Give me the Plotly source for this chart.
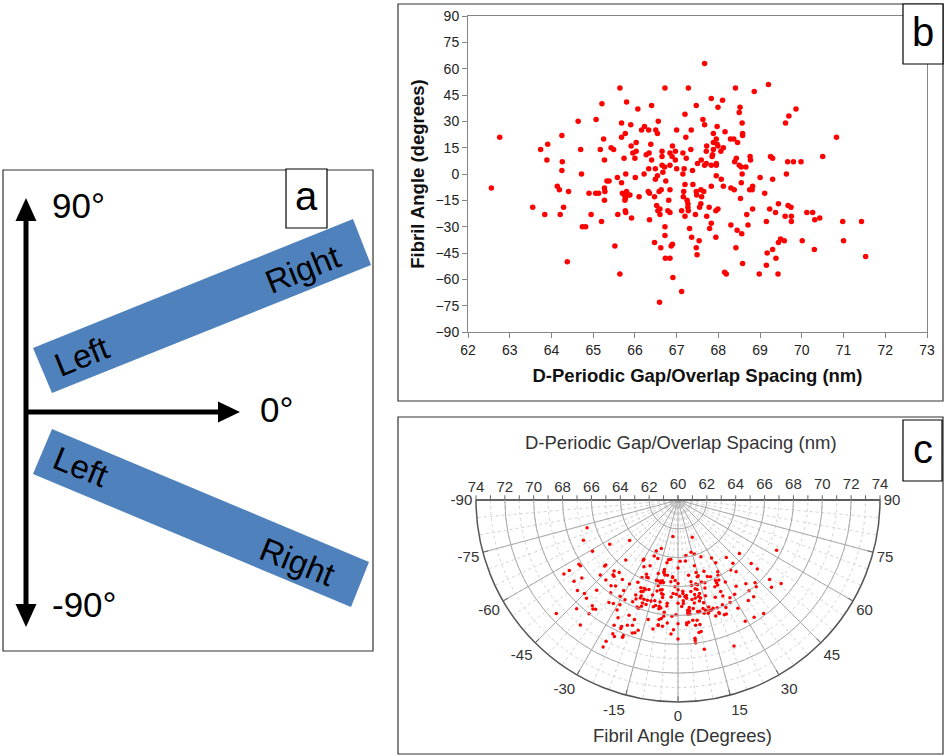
import plotly.graph_objects as go

# ---------------- data ----------------
spacing_nm = [
    67.67, 69.20, 65.64, 66.72, 67.28, 68.41, 68.86, 67.83, 68.10, 65.80,
    65.21, 67.47, 66.40, 67.99, 68.52, 66.07, 69.86, 68.50, 67.20, 69.69,
    67.63, 65.07, 64.64, 66.56, 65.68, 69.61, 68.57, 65.90, 67.67, 67.97,
    66.23, 66.16, 66.33, 67.00, 67.35, 66.50, 68.16, 66.54, 65.77, 67.88,
    68.58, 68.58, 64.25, 62.76, 65.68, 67.22, 70.83, 65.25, 67.95, 68.29,
    68.37, 66.03, 67.88, 68.46, 63.91, 66.38, 67.97, 65.91, 66.90, 67.72,
    67.99, 65.43, 68.12, 63.74, 64.70, 65.17, 65.49, 67.34, 67.88, 66.65,
    66.97, 67.71, 68.06, 65.95, 66.03, 67.15, 66.84, 66.27, 67.86, 66.34,
    66.89, 66.65, 67.23, 65.74, 66.00, 67.85, 68.76, 69.25, 69.30, 70.50,
    68.43, 68.77, 63.89, 65.27, 66.40, 66.97, 67.59, 64.26, 68.39, 69.66,
    69.80, 69.98, 67.71, 67.95, 67.50, 66.65, 66.84, 67.67, 67.83, 67.95,
    68.50, 66.71, 68.66, 68.55, 66.49, 67.00, 66.33, 67.18, 64.25, 67.38,
    66.67, 64.72, 65.78, 66.22, 67.15, 68.57, 69.63, 67.95, 66.54, 69.00,
    65.58, 66.01, 68.07, 69.30, 66.49, 66.74, 65.33, 65.38, 68.55, 65.68,
    67.39, 67.20, 64.14, 67.83, 68.12, 62.56, 64.19, 65.27, 68.30, 68.38,
    68.75, 68.81, 68.82, 66.63, 67.58, 67.65, 66.84, 64.41, 65.28, 66.32,
    66.58, 67.17, 67.47, 64.90, 65.06, 65.13, 65.80, 65.70, 66.35, 69.11,
    67.48, 65.84, 65.75, 65.88, 66.47, 67.16, 66.10, 67.60, 65.77, 68.53,
    65.27, 66.81, 65.76, 67.25, 67.27, 67.58, 69.44, 66.52, 69.67, 69.74,
    63.55, 67.78, 64.29, 67.55, 67.27, 66.60, 67.99, 68.82, 69.23, 66.55,
    67.94, 67.12, 66.79, 65.77, 67.28, 66.84, 65.78, 70.12, 70.26, 69.37,
    63.84, 64.21, 64.95, 65.59, 66.60, 68.68, 67.45, 69.75, 69.60, 67.20,
    67.72, 70.43, 65.92, 70.31, 66.35, 69.75, 65.20, 69.15, 70.98, 71.43,
    67.83, 68.30, 68.71, 64.74, 64.82, 66.72, 67.79, 67.31, 68.45, 68.56,
    67.36, 66.72, 67.94, 69.49, 69.58, 70.01, 71.00, 67.54, 66.47, 69.44,
    66.90, 65.52, 66.87, 66.62, 67.47, 68.42, 69.30, 70.30, 69.17, 67.49,
    71.53, 69.38, 66.73, 66.84, 64.38, 68.58, 69.15, 68.15, 68.19, 65.64,
    68.98, 69.43, 66.91, 67.12, 66.59,
]
fibril_angle_deg = [
    63, 51, 49, 49, 49, 49, 47, 43, 42, 41,
    40, 39, 39, 38, 38, 37, 37, 35, 34, 33,
    31, 31, 30, 30, 29, 29, 29, 28, 28, 27,
    27, 25, 25, 25, 25, 25, 24, 23, 23, 23,
    23, 22, 22, 21, 21, 21, 21, 20, 20, 20,
    20, 18, 18, 18, 17, 17, 17, 16, 16, 16,
    16, 15, 15, 14, 14, 14, 14, 14, 14, 13,
    13, 13, 13, 12, 13, 12, 12, 11, 11, 12,
    10, 10, 9, 9, 9, 10, 10, 10, 9, 10,
    9, 8, 8, 8, 8, 8, 8, 7, 7, 7,
    7, 7, 6, 6, 6, 5, 5, 5, 5, 5,
    5, 4, 4, 4, 3, 3, 3, 3, 2, 2,
    1, 0, 0, 0, 0, 0, 0, -1, -1, -2,
    -2, -2, -3, -3, -3, -4, -4, -4, -5, -5,
    -6, -6, -7, -7, -7, -8, -9, -8, -8, -9,
    -9, -9, -7, -9, -9, -10, -9, -10, -10, -10,
    -10, -10, -10, -11, -11, -11, -10, -11, -11, -11,
    -12, -12, -12, -12, -13, -13, -13, -13, -14, -14,
    -15, -15, -15, -15, -17, -17, -17, -18, -18, -19,
    -19, -19, -19, -19, -19, -20, -20, -20, -20, -21,
    -21, -21, -21, -21, -21, -22, -22, -22, -22, -22,
    -23, -23, -23, -23, -23, -23, -23, -24, -24, -24,
    -24, -25, -25, -26, -26, -27, -27, -27, -27, -27,
    -28, -29, -29, -30, -30, -30, -31, -31, -32, -34,
    -36, -35, -36, -37, -38, -38, -38, -38, -39, -39,
    -40, -41, -41, -42, -42, -42, -43, -43, -45, -46,
    -47, -48, -48, -48, -50, -51, -52, -56, -57, -57,
    -57, -57, -59, -67, -73,
]

spacing_ticks = list(range(62, 74))          # panel b x ticks
angle_ticks = list(range(-90, 91, 15))       # panel b y ticks / panel c angular ticks
radial_ticks = list(range(60, 75, 1))        # panel c radial ticks (labels on even)
radial_major = list(range(60, 75, 2))        # panel c major radial grid
angle_minor = list(range(-90, 91, 5))        # panel c minor angular grid

W, H = 945, 756
FONT = "Liberation Sans, Arial, sans-serif"


def fx(x):
    return x / W


def fy(y):
    return 1 - y / H


def wrap(v):
    # angular axis of the half-disc runs from 270 to 450 internally
    return v + 360


fig = go.Figure()

# ---------------- panel b: scatter ----------------
fig.add_trace(go.Scatter(
    x=spacing_nm, y=fibril_angle_deg, mode="markers",
    marker=dict(color="#FF0000", size=5.5, line=dict(width=0)),
    xaxis="x", yaxis="y", showlegend=False, hoverinfo="skip"))

# ---------------- panel c: polar ----------------
fig.add_trace(go.Scatterpolar(r=[], theta=[], subplot="polar", mode="markers",
                              showlegend=False, hoverinfo="skip"))
fig.add_trace(go.Scatterpolar(r=[], theta=[], subplot="polar3", mode="markers",
                              showlegend=False, hoverinfo="skip"))
fig.add_trace(go.Scatterpolar(
    r=spacing_nm, theta=fibril_angle_deg, subplot="polar2", mode="markers",
    marker=dict(color="#FF0000", size=3.5, line=dict(width=0)),
    showlegend=False, hoverinfo="skip"))

pdom = dict(x=[fx(476), fx(880)], y=[fy(702), fy(500)])
tickfont_c = dict(family=FONT, size=15, color="#333333")
radial_text_right = [str(v) if v % 2 == 0 else "" for v in radial_ticks]
radial_text_left = [str(v) if (v % 2 == 0 and v != 60) else "" for v in radial_ticks]

fig.update_layout(
    width=W, height=H, autosize=False,
    margin=dict(l=0, r=0, t=0, b=0),
    paper_bgcolor="white", plot_bgcolor="white",
    font=dict(family=FONT, color="#222222"),
    xaxis=dict(
        domain=[fx(468), fx(927)], range=[62, 73], tickmode="array",
        tickvals=spacing_ticks, ticks="outside", ticklen=5, tickcolor="#868686",
        showline=True, linecolor="#868686", mirror=True, showgrid=False,
        zeroline=False, tickfont=dict(family=FONT, size=14, color="#222222"),
        title=dict(text="<b>D-Periodic Gap/Overlap Spacing (nm)</b>",
                   font=dict(family=FONT, size=18.5, color="#111111"), standoff=12),
        automargin=False, anchor="y"),
    yaxis=dict(
        domain=[fy(332), fy(16)], range=[-90, 90], tickmode="array",
        tickvals=angle_ticks, ticks="outside", ticklen=5, tickcolor="#868686",
        showline=True, linecolor="#868686", mirror=True, showgrid=False,
        zeroline=False, tickfont=dict(family=FONT, size=14, color="#222222"),
        title=dict(text="<b>Fibril Angle (degrees)</b>",
                   font=dict(family=FONT, size=18.5, color="#111111"), standoff=5),
        automargin=False, anchor="x"),
    polar=dict(
        domain=pdom, sector=[180, 360], bgcolor="white",
        radialaxis=dict(range=[60, 74], angle=180, side="clockwise",
                        tickmode="array", tickvals=radial_ticks,
                        ticktext=radial_text_left,
                        showgrid=True, gridcolor="#d4d4d4", griddash="dot",
                        showline=True, linecolor="#555555", linewidth=1.5,
                        ticks="outside", ticklen=4, tickcolor="#666666",
                        tickfont=tickfont_c),
        angularaxis=dict(rotation=-90, direction="counterclockwise",
                         tickmode="array", tickvals=[wrap(v) for v in angle_minor],
                         showticklabels=False, ticks="", showgrid=True,
                         gridcolor="#d4d4d4", griddash="dot", showline=False)),
    polar3=dict(
        domain=pdom, sector=[180, 360], bgcolor="rgba(0,0,0,0)",
        radialaxis=dict(range=[60, 74], angle=0, tickmode="array",
                        tickvals=radial_major, showticklabels=False, ticks="",
                        showline=False, showgrid=True, gridcolor="#a9a9a9",
                        gridwidth=1),
        angularaxis=dict(rotation=-90, direction="counterclockwise",
                         showticklabels=False, ticks="", showgrid=False,
                         showline=False)),
    polar2=dict(
        domain=pdom, sector=[180, 360], bgcolor="rgba(0,0,0,0)",
        radialaxis=dict(range=[60, 74], angle=0, side="counterclockwise",
                        tickmode="array", tickvals=radial_ticks,
                        ticktext=radial_text_right, tickangle=0,
                        showgrid=False,
                        showline=True, linecolor="#555555", linewidth=1.5,
                        ticks="outside", ticklen=4, tickcolor="#666666",
                        tickfont=tickfont_c),
        angularaxis=dict(rotation=-90, direction="counterclockwise",
                         tickmode="array", tickvals=[wrap(v) for v in angle_ticks],
                         ticktext=[str(v) for v in angle_ticks],
                         showticklabels=True, ticks="inside", ticklen=5,
                         tickcolor="#666666", tickfont=tickfont_c,
                         showgrid=True, gridcolor="#a9a9a9", gridwidth=1,
                         showline=True, linecolor="#555555", linewidth=1.5)),
)

shapes = []
annotations = []

# panel frames
for (x0, y0, x1, y1) in [(3, 170, 373, 651), (398, 4, 943, 401), (398, 417, 943, 754)]:
    shapes.append(dict(type="rect", xref="paper", yref="paper",
                       x0=fx(x0), y0=fy(y0), x1=fx(x1), y1=fy(y1),
                       line=dict(color="#333333", width=1.2), fillcolor="rgba(0,0,0,0)"))


def poly(pts):
    return "M " + " L ".join(f"{fx(x):.5f},{fy(y):.5f}" for x, y in pts) + " Z"


# panel a: blue bars
for pts in [[(33, 348), (353, 219), (371, 265), (52, 393)],
            [(52, 429), (369, 562), (351, 607), (33, 474)]]:
    shapes.append(dict(type="path", xref="paper", yref="paper", path=poly(pts),
                       fillcolor="#4F81BD", line=dict(width=0)))

# panel a: arrows (shafts + heads)
shapes.append(dict(type="line", xref="paper", yref="paper",
                   x0=fx(26), y0=fy(216), x1=fx(26), y1=fy(609),
                   line=dict(color="black", width=5)))
shapes.append(dict(type="line", xref="paper", yref="paper",
                   x0=fx(24), y0=fy(412), x1=fx(221), y1=fy(412),
                   line=dict(color="black", width=5)))
for pts in [[(26, 198), (15.5, 221), (36.5, 221)],
            [(26, 627), (15.5, 604), (36.5, 604)],
            [(240, 412), (218, 401.5), (218, 422.5)]]:
    shapes.append(dict(type="path", xref="paper", yref="paper", path=poly(pts),
                       fillcolor="black", line=dict(width=0)))

# label boxes
for (x0, y0, x1, y1, t, fs) in [(286, 169, 327, 228, "a", 40),
                                (903, 4, 943, 64, "b", 40),
                                (903, 420, 942, 481, "c", 40)]:
    shapes.append(dict(type="rect", xref="paper", yref="paper",
                       x0=fx(x0), y0=fy(y0), x1=fx(x1), y1=fy(y1),
                       line=dict(color="black", width=1.2), fillcolor="white"))
    annotations.append(dict(xref="paper", yref="paper", x=fx((x0 + x1) / 2),
                            y=fy((y0 + y1) / 2 - 2), text=t, showarrow=False,
                            xanchor="center", yanchor="middle",
                            font=dict(family=FONT, size=fs, color="black")))

# panel a texts
for (x, y, t, ang) in [(78, 205, "90°", 0), (276, 409, "0°", 0), (84, 604, "-90°", 0),
                       (81, 356, "Left", -22), (302, 269, "Right", -22),
                       (80, 467, "Left", 22), (297, 561, "Right", 22)]:
    annotations.append(dict(xref="paper", yref="paper", x=fx(x), y=fy(y), text=t,
                            showarrow=False, xanchor="center", yanchor="middle",
                            textangle=ang,
                            font=dict(family=FONT, size=35 if "°" in t else 33,
                                      color="black")))

# panel c titles
annotations.append(dict(xref="paper", yref="paper", x=fx(681), y=fy(442),
                        text="D-Periodic Gap/Overlap Spacing (nm)", showarrow=False,
                        xanchor="center", yanchor="middle",
                        font=dict(family=FONT, size=18.5, color="#333333")))
annotations.append(dict(xref="paper", yref="paper", x=fx(682), y=fy(735),
                        text="Fibril Angle (Degrees)", showarrow=False,
                        xanchor="center", yanchor="middle",
                        font=dict(family=FONT, size=18.5, color="#333333")))

fig.update_layout(shapes=shapes, annotations=annotations)
fig.write_html("out.html", config={"displayModeBar": False},
               post_script="document.body.style.margin='0';"
                           "document.body.style.overflow='hidden';")
